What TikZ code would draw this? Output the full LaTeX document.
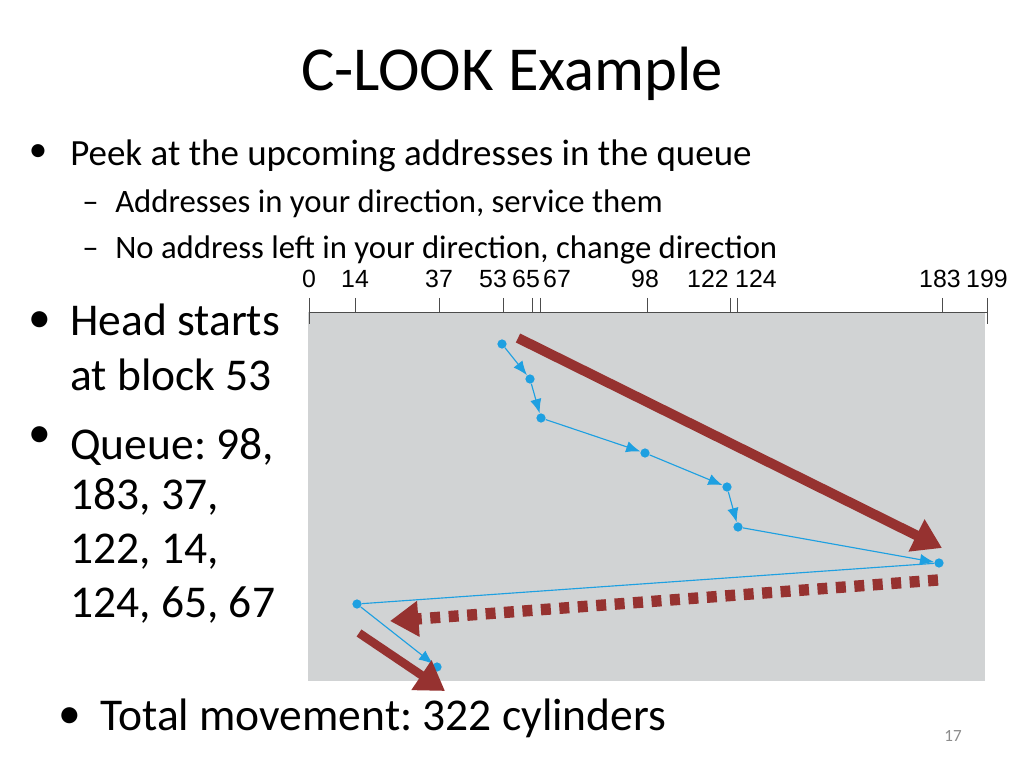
\documentclass[tikz,border=0pt]{standalone}
\usepackage{fontspec}
\setmainfont{Carlito}
\newfontfamily\axisfont{Liberation Sans}
\usetikzlibrary{arrows.meta,positioning}
\frenchspacing

\definecolor{chartgray}{RGB}{209,211,212}
\definecolor{headblue}{RGB}{30,160,225}
\definecolor{sweepred}{RGB}{150,50,48}
\definecolor{pagegray}{RGB}{140,140,140}

\begin{document}
\begin{tikzpicture}[
        x=0.703125pt, y=-0.703125pt,
        >={Latex[]},
        every node/.style={inner sep=0pt},
        txt/.style={anchor=base west},
        big/.style={txt, font=\fontsize{32}{38}\selectfont},
        dot/.style={circle, fill=headblue, minimum size=6.5pt},
        seek/.style={headblue, line width=0.8pt, ->, >={Latex[length=10pt, width=8pt]}},
        sweep/.style={sweepred, line width=7pt, -{Triangle[length=20pt, width=24pt]}},
        tick/.style={draw=black!70, line width=0.6pt}
        ]
        \useasboundingbox[fill=white] (0,0) rectangle (1024,768);

        % Title and bullets
        \node[anchor=base, font=\fontsize{44}{53}\selectfont] (title) at (512,91) {C-LOOK Example};

        \node[font=\fontsize{26}{31}\selectfont] (b1) at (38,153) {•};
        \node[txt, font=\fontsize{26}{31}\selectfont] (peek) at (70,166) {Peek at the upcoming addresses in the queue};
        \node[txt, font=\fontsize{23}{28}\selectfont] (d1) at (82,213) {–};
        \node[txt, font=\fontsize{23}{28}\selectfont] (dir) at (115,213) {Addresses in your direction, service them};
        \node[txt, font=\fontsize{23}{28}\selectfont] (d2) at (82,259) {–};
        \node[txt, font=\fontsize{23}{28}\selectfont] (nodir) at (115,259) {No address left in your direction, change direction};

        \node[font=\fontsize{32}{38}\selectfont] (b2) at (40,322) {•};
        \node[big] (head1) at (70,335) {Head starts};
        \node[big] (head2) at (70,390) {at block 53};
        \node[font=\fontsize{32}{38}\selectfont] (b3) at (40,437) {•};
        \node[big] (queue1) at (70,459) {Queue: 98,};
        \node[big] (queue2) at (70,509) {183, 37,};
        \node[big] (queue3) at (70,563) {122, 14,};
        \node[big] (queue4) at (70,617) {124, 65, 67};

        \node[font=\fontsize{32}{38}\selectfont] (b4) at (70,718) {•};
        \node[big] (total) at (100,730) {Total movement: 322 cylinders};
        \node[anchor=base, font=\fontsize{12}{14}\selectfont, text=pagegray] (page) at (953,741) {17};

        % Chart area and axis
        \fill[chartgray] (308,312) rectangle (985,681);
        \draw[tick] (309,312) -- (987,312);
        \draw[tick] (309,298) -- (309,324);
        \draw[tick] (987,298) -- (987,324);
        \foreach \xx in {355,439,503,532,540,647,730,737,942}
          \draw[tick] (\xx,298) -- (\xx,312);
        \foreach \xx/\lab in {309/0,355/14,439/37,493/53,526/65,557/67,645/98,708/122,756/124,940/183,987/199}
          \node[font=\axisfont\fontsize{17.5}{20}\selectfont, anchor=base] (lab\lab) at (\xx,288) {\lab};

        % Head positions
        \node[dot] (c53) at (502,344) {};
        \node[dot] (c65) at (530,379) {};
        \node[dot] (c67) at (541,418) {};
        \node[dot] (c98) at (645,453) {};
        \node[dot] (c122) at (727,487) {};
        \node[dot] (c124) at (738,527) {};
        \node[dot] (c183) at (939,563) {};
        \node[dot] (c14) at (357,604) {};
        \node[dot] (c37) at (437,667) {};

        % Sweep arrows
        \coordinate (up1) at (518,338);
        \coordinate (up2) at (942,548);
        \coordinate (back1) at (938,580);
        \coordinate (back2) at (390,621);
        \coordinate (low1) at (359,633);
        \coordinate (low2) at (445,691);

        % Edges
        \draw[seek] (c53) -- (c65);
        \draw[seek] (c65) -- (c67);
        \draw[seek] (c67) -- (c98);
        \draw[seek] (c98) -- (c122);
        \draw[seek] (c122) -- (c124);
        \draw[seek] (c124) -- (c183);
        \draw[headblue, line width=0.8pt] (c183) -- (c14);
        \draw[seek] (c14) -- (c37);

        \draw[sweep] (up1) -- (up2);
        \draw[sweep, line width=8pt, dash pattern=on 7pt off 6pt] (back1) -- (back2);
        \draw[sweep, line width=6pt] (low1) -- (low2);

      \end{tikzpicture}
\end{document}
